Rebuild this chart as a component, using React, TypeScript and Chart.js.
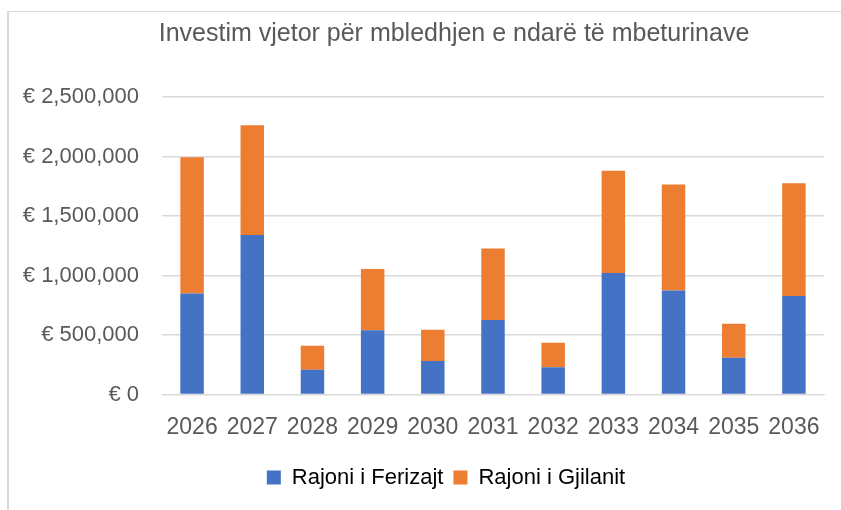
import React, { useEffect, useRef } from "react";
import { Chart, registerables } from "chart.js";

Chart.register(...registerables);

const chartTitle = "Investim vjetor për mbledhjen e ndarë të mbeturinave";
const categories = ["2026", "2027", "2028", "2029", "2030", "2031", "2032", "2033", "2034", "2035", "2036"];
const seriesNames = ["Rajoni i Ferizajt", "Rajoni i Gjilanit"];
const ferizajValues = [848000, 1341000, 208000, 539000, 281000, 626000, 230000, 1021000, 873000, 309000, 828000];
const gjilanValues = [1145000, 921000, 202000, 516000, 264000, 600000, 205000, 859000, 892000, 286000, 948000];
const yTickValues = [0, 500000, 1000000, 1500000, 2000000, 2500000];

const FONT = "'Liberation Sans Narrow', 'Liberation Sans', sans-serif";

const titlePlugin = {
  id: "centredTitle",
  afterDraw(chart: any) {
    const ctx = chart.ctx;
    ctx.save();
    ctx.font = `normal 25px ${FONT}`;
    ctx.fillStyle = "#595959";
    ctx.textAlign = "center";
    ctx.textBaseline = "middle";
    ctx.fillText(chartTitle, 454, 34);
    ctx.restore();
  },
};

const legendShiftPlugin = {
  id: "legendShift",
  afterLayout(chart: any) {
    const lg = chart.legend;
    if (lg) {
      lg.left += 34;
      lg.right += 34;
    }
  },
};

export default function App() {
  const canvasRef = useRef<HTMLCanvasElement | null>(null);

  useEffect(() => {
    const canvas = canvasRef.current;
    if (!canvas) return;
    const chart = new Chart(canvas, {
      type: "bar",
      data: {
        labels: categories,
        datasets: [
          {
            label: seriesNames[0],
            data: ferizajValues,
            backgroundColor: "#4472C4",
            barPercentage: 0.39,
            categoryPercentage: 1,
          },
          {
            label: seriesNames[1],
            data: gjilanValues,
            backgroundColor: "#ED7D31",
            barPercentage: 0.39,
            categoryPercentage: 1,
          },
        ],
      },
      plugins: [titlePlugin, legendShiftPlugin],
      options: {
        animation: false,
        responsive: false,
        maintainAspectRatio: false,
        layout: { padding: { left: 0, right: 17, top: 97, bottom: 11.5 } },
        plugins: {
          tooltip: { enabled: false },
          title: { display: false },
          legend: {
            position: "bottom",
            labels: {
              color: "#000000",
              font: { family: FONT, size: 22 },
              boxWidth: 14,
              boxHeight: 14,
              padding: 10,
            },
          },
        },
        scales: {
          x: {
            stacked: true,
            grid: { display: false },
            border: { display: true, color: "#d9d9d9", width: 1 },
            ticks: { color: "#595959", font: { family: FONT, size: 23 }, padding: 11 },
            afterFit: (s: any) => {
              s.height = 62;
            },
          },
          y: {
            stacked: true,
            min: 0,
            max: 2500000,
            afterBuildTicks: (s: any) => {
              s.ticks = yTickValues.map((v) => ({ value: v }));
            },
            grid: { color: "#d9d9d9", lineWidth: 1.5, drawTicks: false },
            border: { display: false },
            ticks: {
              color: "#595959",
              font: { family: FONT, size: 22 },
              padding: 23,
              callback: (v: any) => "€ " + Number(v).toLocaleString("en-US"),
            },
            afterFit: (s: any) => {
              s.width = 162;
            },
          },
        },
      },
    });
    return () => chart.destroy();
  }, []);

  return (
    <div style={{ position: "fixed", left: 0, top: 0, width: 841, height: 510, overflow: "hidden", background: "#fff" }}>
      <div
        style={{
          position: "absolute",
          left: 7,
          top: 11,
          width: 1000,
          height: 1000,
          borderLeft: "2px solid #d9d9d9",
          borderTop: "1px solid #d9d9d9",
        }}
      />
      <canvas ref={canvasRef} width={841} height={510} style={{ position: "absolute", left: 0, top: 0 }} />
    </div>
  );
}
